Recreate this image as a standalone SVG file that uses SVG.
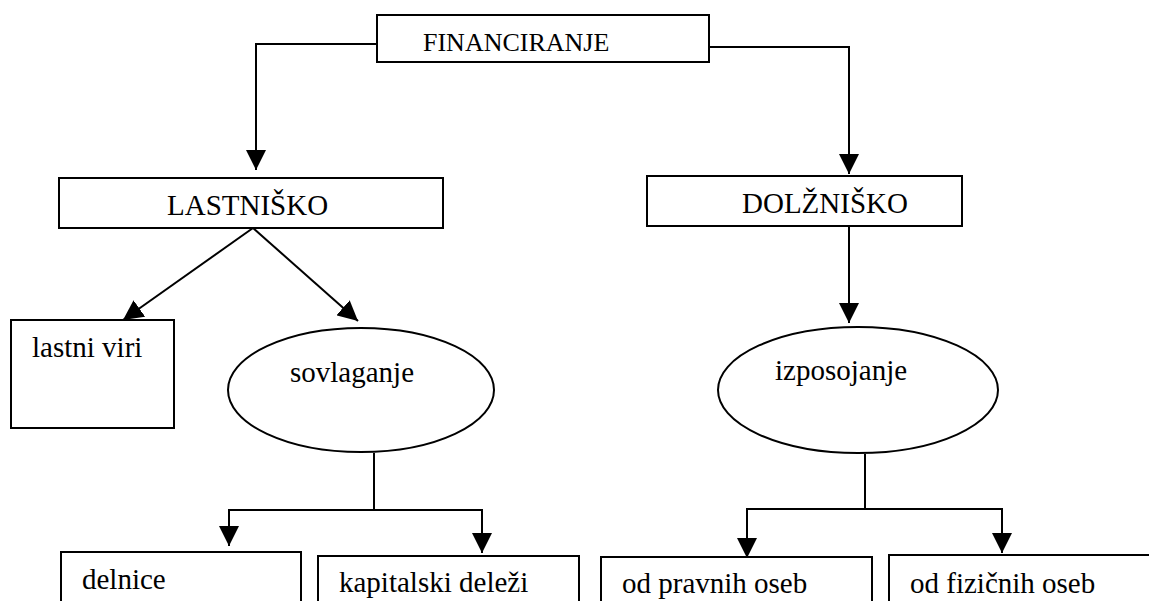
<svg xmlns="http://www.w3.org/2000/svg" width="1149" height="601" viewBox="0 0 1149 601">
  <style>
    .box { fill: #ffffff; stroke: #000000; stroke-width: 2; }
    .oval { fill: #ffffff; stroke: #000000; stroke-width: 2; }
    .lbl { font-size: 29px; fill: #000000; }
    .edge { fill: none; stroke: #000000; stroke-width: 2; }
    .arr { marker-end: url(#head); }
  </style>
  <defs>
    <marker id="head" markerUnits="userSpaceOnUse" markerWidth="20" markerHeight="20" refX="20" refY="10" orient="auto" viewBox="0 0 20 20">
      <path d="M0,0 L20,10 L0,20 Z" fill="#000000"/>
    </marker>
  </defs>
  <rect width="1149" height="601" fill="#ffffff"/>

  <!-- connectors -->
  <g id="connectors">
    <polyline class="edge arr" points="377,44 256,44 256,170"/>
    <polyline class="edge arr" points="709,47 849,47 849,174"/>
    <line class="edge arr" x1="253" y1="228" x2="123" y2="320"/>
    <line class="edge arr" x1="253" y1="228" x2="358" y2="321"/>
    <line class="edge arr" x1="849" y1="226" x2="849" y2="323"/>
    <!-- fork below sovlaganje -->
    <line class="edge" x1="374" y1="453" x2="374" y2="510"/>
    <line class="edge" x1="228" y1="510" x2="483" y2="510"/>
    <line class="edge arr" x1="229" y1="510" x2="229" y2="546"/>
    <line class="edge arr" x1="482" y1="510" x2="482" y2="553"/>
    <!-- fork below izposojanje -->
    <line class="edge" x1="865" y1="454" x2="865" y2="509"/>
    <line class="edge" x1="746" y1="509" x2="1003" y2="509"/>
    <line class="edge arr" x1="747" y1="509" x2="747" y2="558"/>
    <line class="edge arr" x1="1002" y1="509" x2="1002" y2="553"/>
  </g>

  <g font-family="'Liberation Serif', 'DejaVu Serif', serif">
  <g id="financiranje">
    <rect class="box" x="377" y="15" width="332" height="47"/>
    <text class="lbl" x="423" y="51" style="font-size:26px">FINANCIRANJE</text>
  </g>

  <g id="lastnisko">
    <rect class="box" x="59" y="178" width="384" height="50"/>
    <text class="lbl" x="167" y="215">LASTNIŠKO</text>
  </g>

  <g id="dolznisko">
    <rect class="box" x="647" y="176" width="315" height="50"/>
    <text class="lbl" x="742" y="213">DOLŽNIŠKO</text>
  </g>

  <g id="lastni-viri">
    <rect class="box" x="11" y="320" width="163" height="108"/>
    <text class="lbl" x="32" y="357">lastni viri</text>
  </g>

  <g id="sovlaganje">
    <ellipse class="oval" cx="361" cy="390" rx="133" ry="62"/>
    <text class="lbl" x="290" y="382">sovlaganje</text>
  </g>

  <g id="izposojanje">
    <ellipse class="oval" cx="858" cy="390" rx="140" ry="63"/>
    <text class="lbl" x="775" y="380">izposojanje</text>
  </g>

  <g id="delnice">
    <rect class="box" x="61" y="552" width="240" height="80"/>
    <text class="lbl" x="82" y="589">delnice</text>
  </g>

  <g id="kapitalski-delezi">
    <rect class="box" x="318" y="556" width="261" height="80"/>
    <text class="lbl" x="339" y="592">kapitalski deleži</text>
  </g>

  <g id="od-pravnih-oseb">
    <rect class="box" x="601" y="557" width="271" height="80"/>
    <text class="lbl" x="622" y="593">od pravnih oseb</text>
  </g>

  <g id="od-fizicnih-oseb">
    <rect class="box" x="889" y="555" width="290" height="80"/>
    <text class="lbl" x="910" y="593">od fizičnih oseb</text>
  </g>
  </g>
</svg>
